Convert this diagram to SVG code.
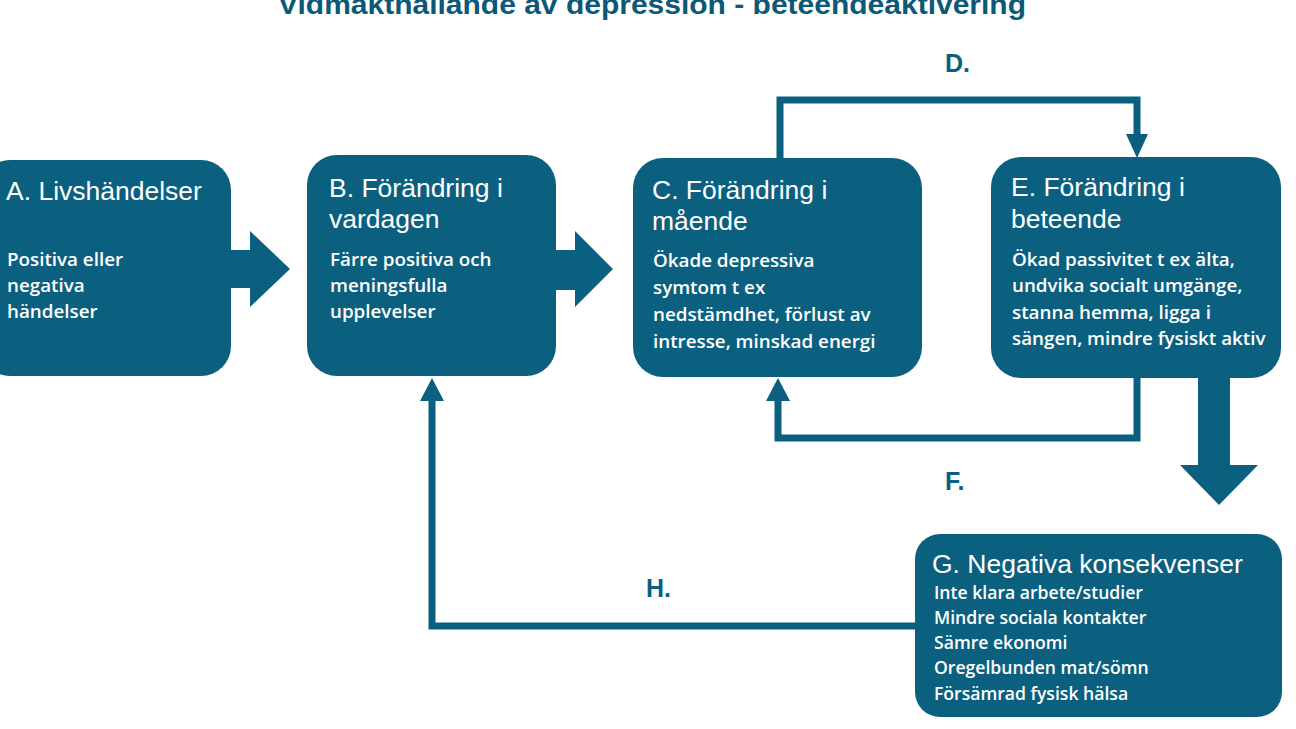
<svg xmlns="http://www.w3.org/2000/svg" width="1296" height="729" viewBox="0 0 1296 729">
<style>
.box{fill:#0b6080}
.ttl{font-family:"Liberation Sans",Arial,sans-serif;font-size:26.5px;fill:#ffffff}
.body{font-family:"Open Sans","Liberation Sans",sans-serif;font-size:18.8px;font-weight:600;fill:#ffffff}
.gbody{font-family:"Open Sans","Liberation Sans",sans-serif;font-size:17.6px;font-weight:600;fill:#ffffff}
.lbl{font-family:"Liberation Sans",Arial,sans-serif;font-size:25px;font-weight:bold;fill:#0b6080}
.line{fill:none;stroke:#0b6080;stroke-width:7}
.head{fill:#0b6080}
</style>
<rect width="1296" height="729" fill="#ffffff"/>
<text x="652" y="14" text-anchor="middle" font-family="Liberation Sans, Arial, sans-serif" font-size="27" font-weight="bold" fill="#0b5878" textLength="748" lengthAdjust="spacingAndGlyphs">Vidmakthållande av depression - beteendeaktivering</text>

<g id="connectors">
  <!-- A to B block arrow -->
  <polygon class="head" points="228,250 250,250 250,231 290,269 250,307 250,288 228,288"/>
  <!-- B to C block arrow -->
  <polygon class="head" points="554,250 575,250 575,231 613,269 575,307 575,290 554,290"/>
  <!-- D: C to E -->
  <polyline class="line" points="780,160 780,100 1137,100 1137,136"/>
  <polygon class="head" points="1126,134 1148,134 1137,158"/>
  <!-- F: E to C -->
  <polyline class="line" points="1137,376 1137,438 778,438 778,398"/>
  <polygon class="head" points="766,401 790,401 778,378"/>
  <!-- E to G big arrow -->
  <polygon class="head" points="1198,376 1230,376 1230,465 1258,465 1219,505 1180,465 1198,465"/>
  <!-- H: G to B -->
  <polyline class="line" points="918,626 432,626 432,398"/>
  <polygon class="head" points="420,401 444,401 432,378"/>
</g>

<text class="lbl" x="945" y="72">D.</text>
<text class="lbl" x="945" y="490">F.</text>
<text class="lbl" x="646" y="597">H.</text>

<g id="nodeA">
  <rect class="box" x="-20" y="160" width="251" height="216" rx="30"/>
  <text class="ttl" x="6" y="200">A. Livshändelser</text>
  <text class="body" x="7" y="266">Positiva eller</text>
  <text class="body" x="7" y="292">negativa</text>
  <text class="body" x="7" y="318">händelser</text>
</g>

<g id="nodeB">
  <rect class="box" x="307" y="155" width="249" height="221" rx="30"/>
  <text class="ttl" x="329" y="197">B. Förändring i</text>
  <text class="ttl" x="329" y="228">vardagen</text>
  <text class="body" x="330" y="266">Färre positiva och</text>
  <text class="body" x="330" y="292">meningsfulla</text>
  <text class="body" x="330" y="318">upplevelser</text>
</g>

<g id="nodeC">
  <rect class="box" x="633" y="158" width="289" height="219" rx="30"/>
  <text class="ttl" x="652" y="199">C. Förändring i</text>
  <text class="ttl" x="652" y="230">mående</text>
  <text class="body" x="653" y="267">Ökade depressiva</text>
  <text class="body" x="653" y="294">symtom t ex</text>
  <text class="body" x="653" y="321">nedstämdhet, förlust av</text>
  <text class="body" x="653" y="348">intresse, minskad energi</text>
</g>

<g id="nodeE">
  <rect class="box" x="991" y="157" width="290" height="221" rx="30"/>
  <text class="ttl" x="1011" y="196">E. Förändring i</text>
  <text class="ttl" x="1011" y="228">beteende</text>
  <text class="body" x="1012" y="266">Ökad passivitet t ex älta,</text>
  <text class="body" x="1012" y="292">undvika socialt umgänge,</text>
  <text class="body" x="1012" y="319">stanna hemma, ligga i</text>
  <text class="body" x="1012" y="345">sängen, mindre fysiskt aktiv</text>
</g>

<g id="nodeG">
  <rect class="box" x="915" y="534" width="367" height="183" rx="25"/>
  <text class="ttl" x="932" y="573">G. Negativa konsekvenser</text>
  <text class="gbody" x="934" y="599">Inte klara arbete/studier</text>
  <text class="gbody" x="934" y="624">Mindre sociala kontakter</text>
  <text class="gbody" x="934" y="649">Sämre ekonomi</text>
  <text class="gbody" x="934" y="674">Oregelbunden mat/sömn</text>
  <text class="gbody" x="934" y="700">Försämrad fysisk hälsa</text>
</g>
</svg>
